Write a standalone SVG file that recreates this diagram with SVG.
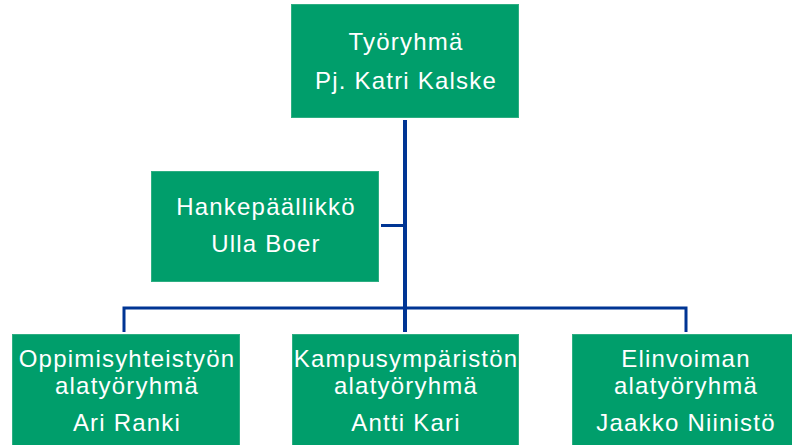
<svg xmlns="http://www.w3.org/2000/svg" width="792" height="445" viewBox="0 0 792 445">
<style>
.box{fill:#009E6B;stroke:#2DAE82;stroke-width:1}
.t{font-family:"Liberation Sans",Arial,sans-serif;font-size:24px;letter-spacing:1.2px;fill:#FFFFFF;text-anchor:middle}
.c{stroke:#003594;fill:none}
</style>
<rect width="792" height="445" fill="#FFFFFF"/>
<g id="connectors">
<line class="c" x1="405" y1="120" x2="405" y2="332" stroke-width="4"/>
<line class="c" x1="381" y1="225.5" x2="405" y2="225.5" stroke-width="3"/>
<polyline class="c" points="124,332 124,308 686,308 686,332" stroke-width="3"/>
</g>
<g id="tyoryhma">
<rect class="box" x="291.5" y="4.5" width="227" height="113"/>
<text class="t" x="406" y="50">Työryhmä</text>
<text class="t" x="406" y="89">Pj. Katri Kalske</text>
</g>
<g id="hankepaallikko">
<rect class="box" x="151.5" y="171.5" width="227" height="110"/>
<text class="t" x="266" y="215">Hankepäällikkö</text>
<text class="t" x="266" y="252">Ulla Boer</text>
</g>
<g id="oppimis">
<rect class="box" x="12.5" y="334.5" width="227" height="115"/>
<text class="t" x="127" y="366.5">Oppimisyhteistyön</text>
<text class="t" x="127" y="393.5">alatyöryhmä</text>
<text class="t" x="127" y="431">Ari Ranki</text>
</g>
<g id="kampus">
<rect class="box" x="292.5" y="334.5" width="226" height="115"/>
<text class="t" x="406" y="366.5">Kampusympäristön</text>
<text class="t" x="406" y="393.5">alatyöryhmä</text>
<text class="t" x="406" y="431">Antti Kari</text>
</g>
<g id="elinvoima">
<rect class="box" x="572.5" y="334.5" width="226" height="115"/>
<text class="t" x="686" y="366.5">Elinvoiman</text>
<text class="t" x="686" y="393.5">alatyöryhmä</text>
<text class="t" x="686" y="431">Jaakko Niinistö</text>
</g>
</svg>
